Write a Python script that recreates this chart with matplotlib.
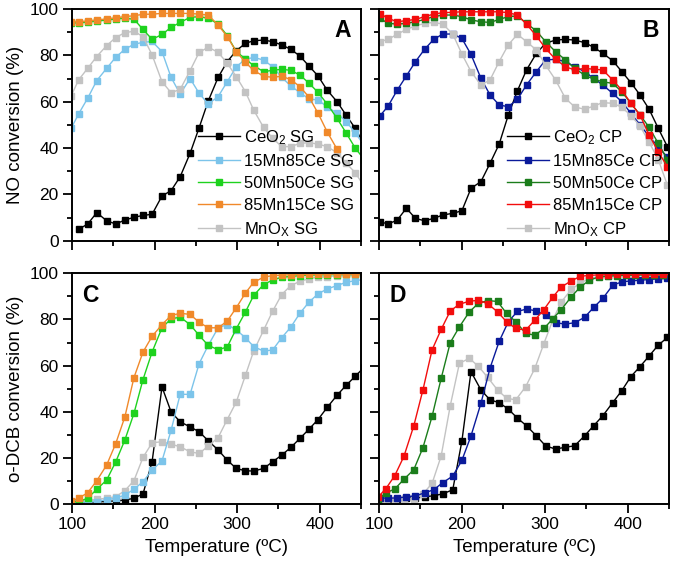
import numpy as np
import matplotlib.pyplot as plt
from matplotlib.ticker import MultipleLocator

plt.rcParams['font.family'] = ['Liberation Sans', 'DejaVu Sans']
plt.rcParams['mathtext.fontset'] = 'custom'
plt.rcParams['mathtext.rm'] = 'Liberation Sans'
plt.rcParams['mathtext.it'] = 'Liberation Sans:italic'
plt.rcParams['mathtext.bf'] = 'Liberation Sans:bold'

nan = np.nan

# temperature points (two sampling grids used in the figure)
temp_a = [99, 108, 119, 130, 142, 153, 164, 175, 186, 197, 209, 220, 231, 243, 254, 265, 277,
          288, 299, 310, 320, 332, 343, 354, 365, 376, 387, 398, 409, 421, 432, 443, 454]
temp_b = [101, 111, 122, 133, 144, 155, 166, 177, 189, 200, 211, 223, 234, 245, 256, 267,
          278, 290, 301, 313, 325, 336, 348, 359, 370, 382, 393, 404, 415, 426, 437, 448]

# A: NO conversion, SG samples (temp_a)
ceo2_sg_no = [nan, 4.9, 7.2, 12.1, 8.6, 7.2, 8.9, 10.1, 10.9, 11.4, 19.3, 21.6, 27.6, 37.7, 48.8,
              60.3, 70.5, 77.3, 82.0, 85.2, 86.3, 86.6, 85.9, 84.5, 82.6, 79.7, 75.4, 71.1, 65.0,
              60.0, 54.2, 48.5, 41.5]
mn15_sg_no = [48.5, 54.7, 61.5, 69.1, 74.4, 79.2, 82.6, 84.8, 85.6, 86.0, 81.6, 70.5, 63.3, 70.0,
              63.6, 59.0, 62.2, 68.6, 75.1, 78.3, 79.1, 78.0, 75.1, 70.5, 66.8, 63.9, 61.2, 60.7,
              57.8, 55.0, 51.4, 46.6, 41.0]
mn50_sg_no = [94.0, 94.0, 94.3, 94.8, 95.2, 95.7, 96.0, 95.6, 91.2, 86.9, 89.0, 92.1, 94.2, 96.4,
              96.7, 96.0, 93.5, 88.5, 81.6, 78.5, 75.5, 73.0, 73.5, 74.0, 73.5, 71.5, 68.0, 64.0,
              59.0, 52.8, 46.5, 40.0, 35.0]
mn85_sg_no = [94.5, 94.5, 94.8, 95.3, 95.7, 96.2, 96.7, 97.1, 97.7, 97.8, 98.1, 98.1, 98.1, 98.1,
              97.8, 97.4, 93.1, 88.1, 81.6, 77.0, 73.5, 71.0, 70.5, 71.0, 69.5, 66.5, 62.0, 55.0,
              47.0, 39.5, nan, nan, nan]
mnox_sg_no = [62.5, 69.4, 74.4, 79.5, 84.2, 87.7, 89.8, 90.4, 88.1, 80.2, 68.6, 63.9, 65.3, 73.4,
              81.3, 83.5, 81.3, 76.6, 70.8, 64.3, 56.4, 48.9, 44.2, 40.6, 40.6, 42.0, 42.3, 41.7,
              40.6, 38.0, 33.4, 29.4, 23.3]

# B: NO conversion, CP samples (temp_b)
ceo2_cp_no = [8.2, 7.2, 8.9, 14.0, 9.6, 8.6, 9.6, 11.1, 11.8, 12.9, 22.6, 25.5, 33.4, 41.7, 54.2,
              64.7, 73.7, 80.9, 85.2, 86.6, 86.9, 86.6, 85.5, 83.5, 80.9, 77.7, 73.0, 68.2, 62.9,
              56.7, 48.5, 40.6]
mn15_cp_no = [53.8, 58.1, 65.0, 71.1, 77.3, 82.6, 86.9, 89.2, 89.2, 87.3, 80.4, 70.1, 62.9, 58.6,
              57.8, 61.0, 67.2, 73.0, 78.0, 78.3, 77.3, 75.1, 73.0, 70.1, 67.2, 63.6, 60.0, 55.0,
              50.0, 45.0, 40.5, 36.0]
mn50_cp_no = [96.0, 93.8, 93.5, 93.8, 94.5, 95.5, 96.7, 97.4, 97.4, 96.7, 95.3, 94.5, 94.2, 95.5,
              96.7, 97.0, 93.8, 90.5, 85.9, 81.6, 78.0, 74.4, 71.5, 69.7, 68.6, 67.9, 64.3, 59.3,
              54.3, 48.9, 42.0, 35.0]
mn85_cp_no = [98.0, 96.0, 94.5, 95.0, 95.5, 96.7, 97.8, 98.4, 98.6, 98.8, 98.8, 98.8, 98.8, 98.8,
              98.4, 97.4, 93.5, 88.3, 83.0, 78.3, 75.1, 73.7, 74.4, 74.0, 73.7, 69.4, 65.0, 59.3,
              54.2, 45.6, 38.4, 31.9]
mnox_cp_no = [85.9, 86.9, 89.1, 91.2, 92.7, 93.8, 94.2, 93.5, 89.2, 80.6, 73.0, 67.2, 69.4, 77.3,
              84.5, 89.1, 85.9, 82.3, 75.8, 69.4, 61.4, 57.8, 56.7, 58.1, 59.6, 59.3, 57.6, 54.0,
              49.5, 42.5, 35.0, 24.0]

# C: o-DCB conversion, SG samples (temp_a)
ceo2_sg_dcb = [0.5, 0.5, 0.8, 1.0, 1.2, 1.5, 1.8, 2.6, 4.5, 18.4, 50.8, 40.0, 35.7, 33.5, 31.4,
               27.5, 23.5, 19.1, 15.5, 14.5, 14.4, 15.5, 18.4, 21.3, 24.6, 28.5, 32.5, 36.7, 41.9,
               47.2, 51.5, 55.4, 59.4]
mn15_sg_dcb = [0.5, 0.8, 1.0, 1.2, 2.0, 2.6, 4.0, 6.5, 9.8, 14.8, 18.8, 32.0, 47.6, 47.6, 60.9,
               68.8, 76.4, 77.8, 75.5, 72.1, 68.3, 66.3, 66.8, 72.1, 76.7, 82.7, 87.5, 91.1, 93.2,
               94.7, 96.1, 96.8, 97.3]
mn50_sg_dcb = [1.0, 1.2, 2.6, 6.5, 10.5, 18.4, 27.8, 39.3, 54.0, 65.9, 76.4, 80.3, 81.0, 77.8,
               73.1, 68.8, 66.9, 68.1, 76.0, 83.2, 90.4, 95.1, 97.1, 98.3, 98.6, 99.0, 99.2, 99.3,
               99.4, 99.4, 99.5, 99.5, 99.5]
mn85_sg_dcb = [1.5, 2.6, 5.0, 10.2, 17.0, 26.3, 37.8, 54.8, 65.9, 72.7, 77.8, 81.7, 82.7, 82.2,
               78.8, 76.4, 76.4, 79.3, 85.1, 91.4, 96.1, 98.3, 99.0, 99.2, 99.4, 99.5, 99.5, 99.6,
               99.6, 99.6, 99.6, 99.6, 99.6]
mnox_sg_dcb = [0.5, 1.2, 1.6, 2.2, 2.6, 3.3, 5.9, 10.2, 20.3, 26.6, 27.1, 26.0, 24.9, 22.7, 22.0,
               25.2, 28.9, 36.7, 44.3, 55.8, 66.3, 75.3, 83.6, 90.8, 94.7, 96.5, 97.6, 98.3, 98.6,
               98.8, 99.0, 99.0, 99.0]

# D: o-DCB conversion, CP samples (CeO2 and 15Mn85Ce on temp_b, others on temp_a)
ceo2_cp_dcb = [0.9, 1.7, 2.3, 2.7, 2.7, 3.2, 3.7, 4.5, 6.3, 27.3, 57.4, 49.5, 45.2, 44.0, 41.2,
               37.3, 34.0, 29.6, 25.3, 23.9, 24.7, 25.3, 29.6, 34.0, 38.3, 44.0, 49.2, 55.3, 59.6,
               64.2, 68.9, 72.2]
mn15_cp_dcb = [2.7, 2.7, 2.7, 3.2, 3.7, 4.9, 6.3, 9.4, 12.2, 19.0, 29.6, 43.7, 59.0, 70.5, 79.0,
               83.5, 84.5, 83.7, 81.9, 78.6, 78.0, 78.6, 80.9, 85.2, 89.1, 94.8, 96.3, 96.7, 97.0,
               97.3, 97.6, 97.8]
mn50_cp_dcb = [2.0, 4.9, 6.6, 10.8, 15.0, 24.5, 38.0, 54.5, 70.0, 76.8, 83.3, 87.0, 88.2, 87.8,
               82.6, 79.0, 74.0, 73.2, 76.1, 80.4, 84.3, 89.8, 94.1, 97.0, 98.4, 98.7, 99.0, 99.1,
               99.2, 99.3, 99.3, 99.3, 99.3]
mn85_cp_dcb = [3.2, 6.6, 12.4, 20.7, 34.0, 49.5, 66.8, 75.7, 83.7, 86.6, 87.9, 88.3, 86.9, 83.3,
               79.0, 76.1, 75.4, 79.7, 84.3, 89.8, 94.1, 96.7, 98.7, 99.1, 99.3, 99.4, 99.5, 99.5,
               99.5, 99.5, 99.5, 99.5, 99.5]
mnox_cp_dcb = [0.5, 0.9, 1.3, 2.3, 2.5, 4.5, 9.0, 20.9, 42.7, 61.0, 63.2, 59.7, 55.0, 49.5, 45.9,
               45.2, 50.9, 58.8, 69.6, 80.0, 87.6, 93.0, 95.8, 97.7, 98.7, 99.0, 99.1, 99.2, 99.2,
               99.2, 99.2, 99.2, 99.2]

sg_labels = ['CeO$_2$ SG', '15Mn85Ce SG', '50Mn50Ce SG', '85Mn15Ce SG', 'MnO$_\\mathrm{X}$ SG']
cp_labels = ['CeO$_2$ CP', '15Mn85Ce CP', '50Mn50Ce CP', '85Mn15Ce CP', 'MnO$_\\mathrm{X}$ CP']
sg_colors = ['#000000', '#7cc4ea', '#1ed21e', '#f0892a', '#c3c3c3']
cp_colors = ['#000000', '#0a1a9a', '#1b7d1b', '#f20d0d', '#c3c3c3']


fig = plt.figure(figsize=(6.85, 5.63), dpi=100)
ax_a = fig.add_axes([0.1051, 0.5725, 0.4219, 0.4115])
ax_b = fig.add_axes([0.5533, 0.5725, 0.4234, 0.4115])
ax_c = fig.add_axes([0.1051, 0.1043, 0.4219, 0.4103])
ax_d = fig.add_axes([0.5533, 0.1043, 0.4234, 0.4103])


def draw(ax, temps, values, color, label):
    ax.plot(temps, values, '-s', color=color, lw=1.0, ms=4.3, mec=color, mfc=color, label=label)


draw(ax_a, temp_a, ceo2_sg_no, sg_colors[0], sg_labels[0])
draw(ax_a, temp_a, mn15_sg_no, sg_colors[1], sg_labels[1])
draw(ax_a, temp_a, mnox_sg_no, sg_colors[4], sg_labels[4])
draw(ax_a, temp_a, mn50_sg_no, sg_colors[2], sg_labels[2])
draw(ax_a, temp_a, mn85_sg_no, sg_colors[3], sg_labels[3])

draw(ax_b, temp_b, ceo2_cp_no, cp_colors[0], cp_labels[0])
draw(ax_b, temp_b, mn15_cp_no, cp_colors[1], cp_labels[1])
draw(ax_b, temp_b, mnox_cp_no, cp_colors[4], cp_labels[4])
draw(ax_b, temp_b, mn50_cp_no, cp_colors[2], cp_labels[2])
draw(ax_b, temp_b, mn85_cp_no, cp_colors[3], cp_labels[3])

draw(ax_c, temp_a, ceo2_sg_dcb, sg_colors[0], sg_labels[0])
draw(ax_c, temp_a, mnox_sg_dcb, sg_colors[4], sg_labels[4])
draw(ax_c, temp_a, mn15_sg_dcb, sg_colors[1], sg_labels[1])
draw(ax_c, temp_a, mn50_sg_dcb, sg_colors[2], sg_labels[2])
draw(ax_c, temp_a, mn85_sg_dcb, sg_colors[3], sg_labels[3])

draw(ax_d, temp_b, ceo2_cp_dcb, cp_colors[0], cp_labels[0])
draw(ax_d, temp_a, mnox_cp_dcb, cp_colors[4], cp_labels[4])
draw(ax_d, temp_b, mn15_cp_dcb, cp_colors[1], cp_labels[1])
draw(ax_d, temp_a, mn50_cp_dcb, cp_colors[2], cp_labels[2])
draw(ax_d, temp_a, mn85_cp_dcb, cp_colors[3], cp_labels[3])

for ax in (ax_a, ax_b, ax_c, ax_d):
    ax.set_xlim(100, 450)
    ax.set_ylim(0, 100)
    ax.xaxis.set_major_locator(MultipleLocator(100))
    ax.xaxis.set_minor_locator(MultipleLocator(50))
    ax.yaxis.set_major_locator(MultipleLocator(20))
    ax.yaxis.set_minor_locator(MultipleLocator(10))
    ax.tick_params(which='major', direction='out', length=6.5, width=1.3, labelsize=12.5, pad=3)
    ax.tick_params(which='minor', direction='out', length=3.8, width=1.3)
    for sp in ax.spines.values():
        sp.set_linewidth(1.4)

for ax in (ax_a, ax_b):
    ax.tick_params(labelbottom=False)
for ax in (ax_b, ax_d):
    ax.tick_params(labelleft=False)

ax_a.set_ylabel('NO conversion (%)', fontsize=13.5, labelpad=4)
ax_c.set_ylabel('o-DCB conversion (%)', fontsize=13.5, labelpad=4)
ax_c.set_xlabel('Temperature (ºC)', fontsize=13.5, labelpad=5)
ax_d.set_xlabel('Temperature (ºC)', fontsize=13.5, labelpad=5)

ax_a.text(0.965, 0.955, 'A', transform=ax_a.transAxes, ha='right', va='top', fontsize=16.5, fontweight='bold')
ax_b.text(0.965, 0.955, 'B', transform=ax_b.transAxes, ha='right', va='top', fontsize=16.5, fontweight='bold')
ax_c.text(0.035, 0.955, 'C', transform=ax_c.transAxes, ha='left', va='top', fontsize=16.5, fontweight='bold')
ax_d.text(0.035, 0.955, 'D', transform=ax_d.transAxes, ha='left', va='top', fontsize=16.5, fontweight='bold')

for ax in (ax_a, ax_b):
    h, l = ax.get_legend_handles_labels()
    order = [0, 1, 3, 4, 2]
    ax.legend([h[i] for i in order], [l[i] for i in order], loc='lower right',
              bbox_to_anchor=(1.0, -0.02), frameon=False, fontsize=12, handlelength=2.5,
              handletextpad=0.25, labelspacing=0.42, borderaxespad=0.0)

fig.savefig('out.png', dpi=100)
